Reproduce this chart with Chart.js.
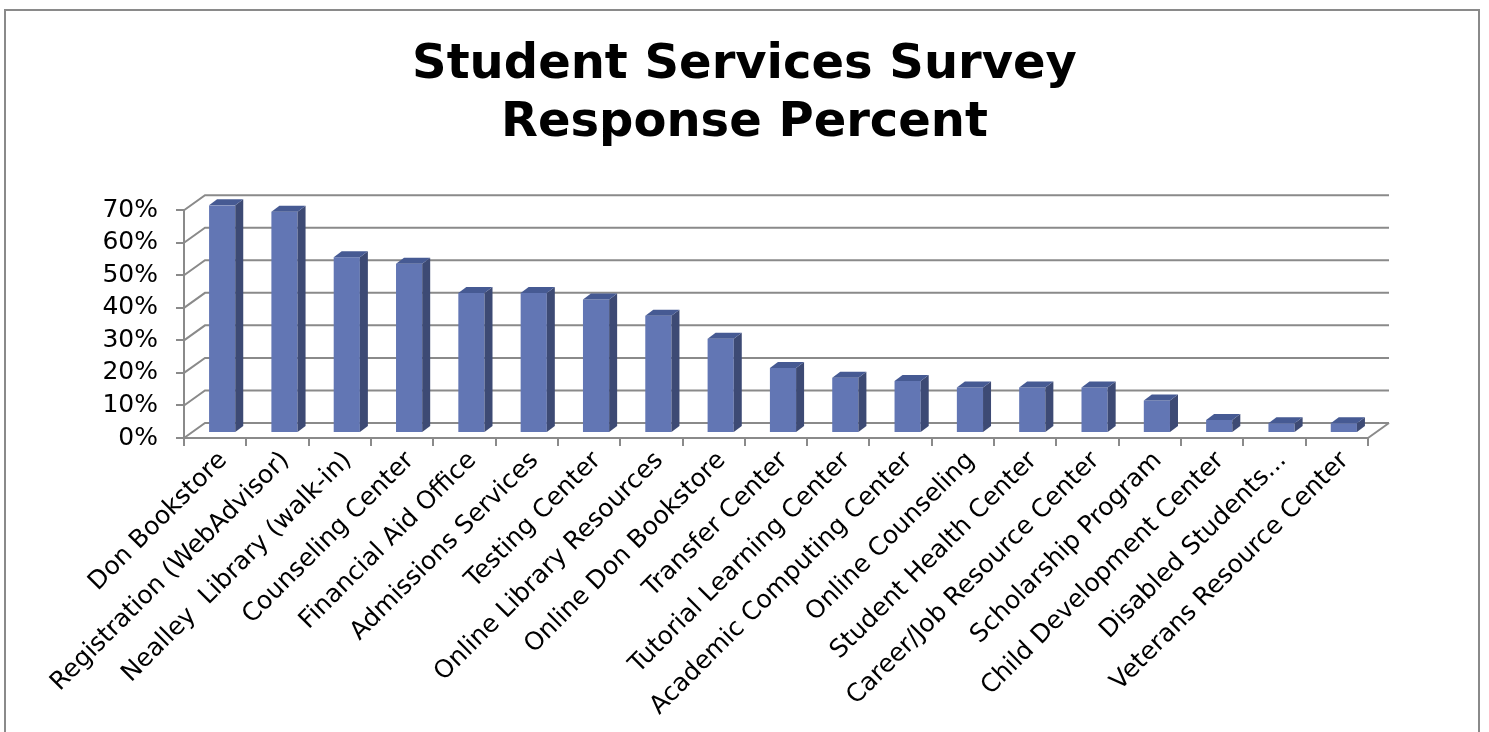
<!DOCTYPE html>
<html>
<head>
<meta charset="utf-8">
<script src="https://cdn.jsdelivr.net/npm/chart.js@4"></script>
<style>
  body { margin: 0; background: #fff; }
  #frame { position: absolute; left: 4px; top: 9px; width: 1472px; height: 740px; border: 2px solid #8a8a8a; }
  #myChart { position: absolute; left: 0; top: 0; }
</style>
</head>
<body>
<div id="frame"></div>
<canvas id="myChart" width="1489" height="732"></canvas>
<script>
// # Data
const categories = [
  "Don Bookstore", "Registration (WebAdvisor)", "Nealley  Library (walk-in)",
  "Counseling Center", "Financial Aid Office", "Admissions Services",
  "Testing Center", "Online Library Resources", "Online Don Bookstore",
  "Transfer Center", "Tutorial Learning Center", "Academic Computing Center",
  "Online Counseling", "Student Health Center", "Career/Job Resource Center",
  "Scholarship Program", "Child Development Center", "Disabled Students...",
  "Veterans Resource Center"
];
const responsePercent = [70, 68, 54, 52, 43, 43, 41, 36, 29, 20, 17, 16, 14, 14, 14, 10, 4, 3, 3];
const tickValues = [0, 10, 20, 30, 40, 50, 60, 70];

// # Depth of the 3D look
const wallDx = 21, wallDy = -15;
const barShiftX = 7, barShiftY = -5;
const sideDx = 8, sideDy = -6;

// # Plugin for the back wall and the 3D sides of the bars
const fake3d = {
  id: "fake3d",
  beforeDatasetsDraw(chart) {
    const ctx = chart.ctx;
    const y = chart.scales.y;
    const area = chart.chartArea;
    ctx.save();
    ctx.strokeStyle = "#8a8a8a";
    ctx.lineWidth = 2;
    tickValues.forEach((v) => {
      const py = y.getPixelForValue(v);
      ctx.beginPath();
      ctx.moveTo(area.left, py);
      ctx.lineTo(area.left + wallDx, py + wallDy);
      ctx.lineTo(area.right + wallDx, py + wallDy);
      ctx.stroke();
    });
    // floor right edge
    const p0 = y.getPixelForValue(0);
    ctx.beginPath();
    ctx.moveTo(area.right, p0);
    ctx.lineTo(area.right + wallDx, p0 + wallDy);
    ctx.stroke();
    ctx.restore();

    ctx.save();
    ctx.translate(barShiftX, barShiftY);
  },
  afterDatasetsDraw(chart) {
    const ctx = chart.ctx;
    chart.getDatasetMeta(0).data.forEach((bar) => {
      const l = bar.x - bar.width / 2;
      const r = bar.x + bar.width / 2;
      ctx.fillStyle = "#3d4a74";
      ctx.beginPath();
      ctx.moveTo(r, bar.y);
      ctx.lineTo(r + sideDx, bar.y + sideDy);
      ctx.lineTo(r + sideDx, bar.base + sideDy);
      ctx.lineTo(r, bar.base);
      ctx.closePath();
      ctx.fill();
      ctx.fillStyle = "#465a93";
      ctx.beginPath();
      ctx.moveTo(l, bar.y);
      ctx.lineTo(l + sideDx, bar.y + sideDy);
      ctx.lineTo(r + sideDx, bar.y + sideDy);
      ctx.lineTo(r, bar.y);
      ctx.closePath();
      ctx.fill();
    });
    ctx.restore();
  },
};

// # Create the chart
const chart = document.getElementById("myChart");

new Chart(chart, {
  type: "bar",
  data: {
    labels: categories,
    datasets: [
      {
        label: "Response Percent",
        data: responsePercent,
        backgroundColor: "#6276b4",
        borderWidth: 0,
        barPercentage: 0.42,
        categoryPercentage: 1,
      },
    ],
  },
  plugins: [fake3d],
  options: {
    responsive: false,
    devicePixelRatio: 1,
    animation: false,
    layout: { padding: 0 },
    plugins: {
      legend: { display: false },
      tooltip: { enabled: false },
      title: {
        display: true,
        text: ["Student Services Survey", "Response Percent"],
        color: "#000",
        font: { family: "DejaVu Sans", size: 48, weight: "bold", lineHeight: 1.2 },
        padding: { top: 37, bottom: 58 },
      },
    },
    scales: {
      x: {
        afterFit: (s) => { s.height = 294; },
        border: { display: true, color: "#8a8a8a", width: 2 },
        grid: { offset: true, drawOnChartArea: false, color: "#8a8a8a", lineWidth: 2, tickLength: 8 },
        ticks: {
          autoSkip: false,
          maxRotation: 45,
          minRotation: 45,
          padding: 0,
          labelOffset: 8,
          color: "#000",
          font: { family: "DejaVu Sans", size: 25 },
        },
      },
      y: {
        min: 0,
        max: 70,
        afterFit: (s) => { s.width = 184; },
        border: { display: true, color: "#8a8a8a", width: 2 },
        grid: { drawOnChartArea: false, color: "#8a8a8a", lineWidth: 2, tickLength: 8 },
        ticks: {
          stepSize: 10,
          autoSkip: false,
          padding: 18,
          color: "#000",
          font: { family: "DejaVu Sans", size: 25 },
          callback: (v) => v + "%",
        },
      },
      // empty right margin so the title stays centred on the page
      yRight: {
        position: "right",
        afterFit: (s) => { s.width = 121; },
        border: { display: false },
        grid: { display: false },
        ticks: { display: false },
      },
    },
  },
});
</script>
</body>
</html>
